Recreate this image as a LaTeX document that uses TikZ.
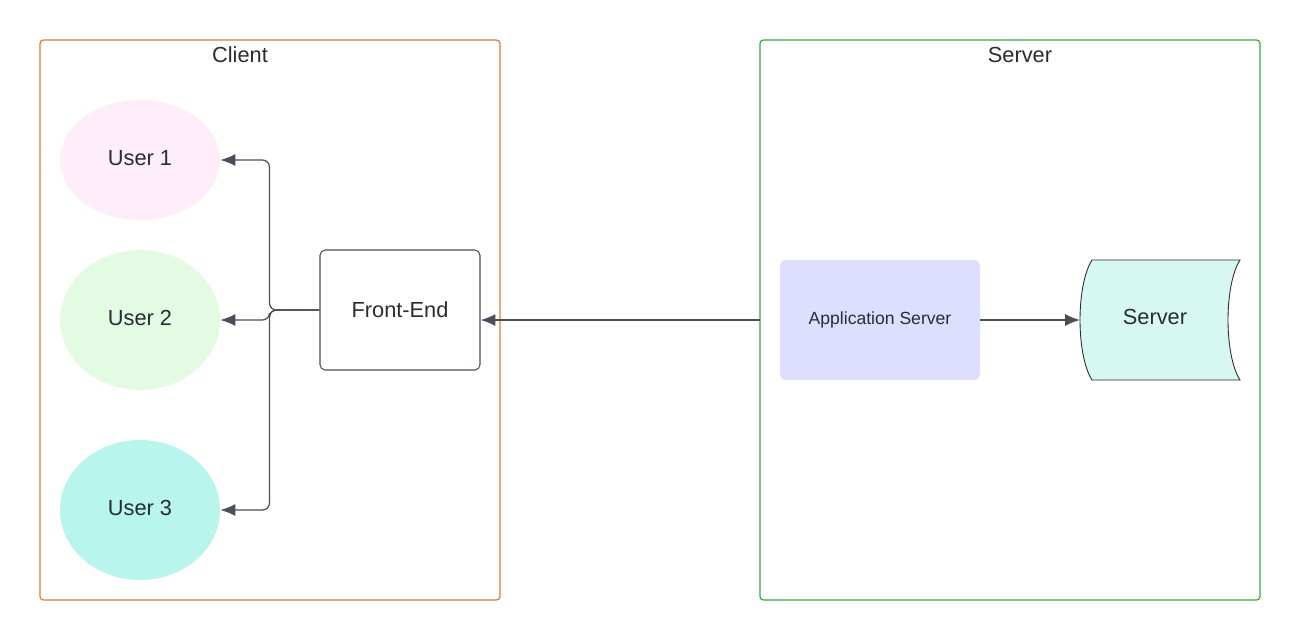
\documentclass[tikz,border=0pt]{standalone}
\usepackage{fontspec}
\setmainfont{Liberation Sans}
\usetikzlibrary{arrows.meta,positioning,shapes.geometric}

\definecolor{clientframe}{HTML}{E07B3A}
\definecolor{serverframe}{HTML}{36A93F}
\definecolor{userone}{HTML}{FDEEF9}
\definecolor{usertwo}{HTML}{E3FAE3}
\definecolor{userthree}{HTML}{B8F5ED}
\definecolor{appfill}{HTML}{DEDEFF}
\definecolor{dbfill}{HTML}{D7F7F1}
\definecolor{linkgrey}{HTML}{4A5059}
\definecolor{textgrey}{HTML}{282C33}

\begin{document}
\begin{tikzpicture}[
  x=0.02cm, y=-0.02cm,
  >={Latex[length=8.5pt,width=6.8pt]},
  every node/.style={text=textgrey, font=\fontsize{12.4}{14}\selectfont},
  frame/.style={draw, line width=0.7pt, rounded corners=2pt},
  user/.style={ellipse, inner sep=0pt, minimum width=160*0.02cm},
  link/.style={->, draw=linkgrey, line width=0.7pt, rounded corners=4pt},
  ]
  \useasboundingbox (0,0) rectangle (1300,640);

  % frames
  \draw[frame, clientframe] (40,40) rectangle (500,600);
  \draw[frame, serverframe] (760,40) rectangle (1260,600);
  \node (client) at (240,55) {Client};
  \node (server) at (1020,55) {Server};
  \coordinate (srv) at (760,320);

  % users and front-end
  \node[user, fill=userone, minimum height=120*0.02cm] (U1) at (140,160) {\raisebox{2pt}{User 1}};
  \node[user, fill=usertwo, minimum height=140*0.02cm] (U2) at (140,320) {\raisebox{2pt}{User 2}};
  \node[user, fill=userthree, minimum height=140*0.02cm] (U3) at (140,510) {\raisebox{2pt}{User 3}};
  \node[draw=linkgrey, line width=0.6pt, rounded corners=3pt,
        minimum width=160*0.02cm, minimum height=120*0.02cm] (FE) at (400,310) {\raisebox{1pt}{Front-End}};

  % application server and database
  \node[fill=appfill, rounded corners=3pt, minimum width=200*0.02cm,
        minimum height=120*0.02cm, font=\fontsize{10}{12}\selectfont] (AS) at (880,320) {Application Server};
  \filldraw[fill=dbfill, draw=textgrey, line width=0.5pt]
    (1092,260) -- (1240,260) .. controls (1224,285) and (1224,355) .. (1240,380)
    -- (1092,380) .. controls (1076,355) and (1076,285) .. (1092,260);
  \node (DB) at (1155,317) {Server};
  \coordinate (DBin) at (1080,320);

  \draw[link] (FE.west) -- ++(-50,0) |- (U1.east);
  \draw[link] (FE.west) -- ++(-50,0) |- (U2.east);
  \draw[link] (FE.west) -- ++(-50,0) |- (U3.east);
  \draw[link] (srv) -- (srv -| FE.east);
  \draw[link] (AS.east) -- (DBin);

\end{tikzpicture}
\end{document}
